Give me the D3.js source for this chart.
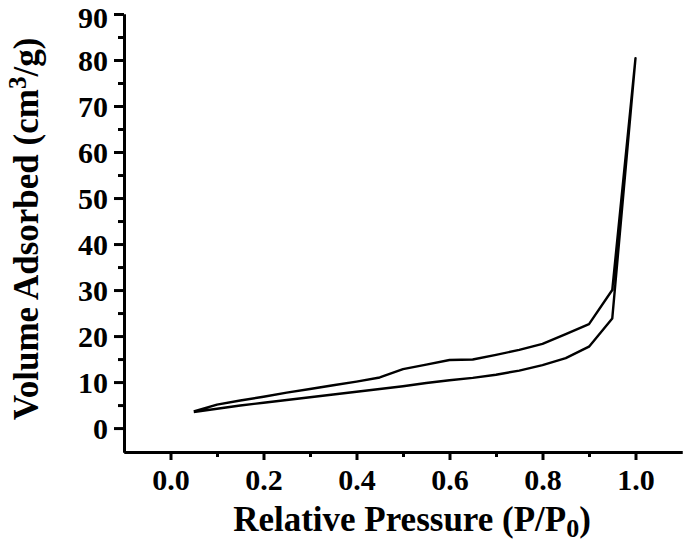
<!DOCTYPE html>
<html><head><meta charset="utf-8">
<script src="https://cdn.jsdelivr.net/npm/d3@7"></script>
<style>
body{margin:0;background:#fff;}
text{font-family:"Liberation Serif","Times New Roman",serif;font-weight:bold;fill:#000;}
</style></head><body>
<svg id="c" width="685" height="543"></svg>
<script>
const pressureAds = [0.05,0.10,0.15,0.20,0.25,0.30,0.35,0.40,0.45,0.50,0.55,0.60,0.65,0.70,0.75,0.80,0.85,0.90,0.95,1.00];
const volumeAds   = [3.5,4.2,4.9,5.5,6.1,6.7,7.3,7.9,8.5,9.1,9.8,10.4,10.9,11.6,12.5,13.7,15.2,17.7,23.8,80.4];
const pressureDes = [1.00,0.95,0.90,0.85,0.80,0.75,0.70,0.65,0.60,0.55,0.50,0.45,0.40,0.35,0.30,0.25,0.20,0.15,0.10,0.05];
const volumeDes   = [80.4,30.0,22.6,20.4,18.3,17.0,15.9,14.9,14.8,13.8,12.8,11.0,10.1,9.3,8.5,7.7,6.8,6.0,5.1,3.6];
const yTicks = [0,10,20,30,40,50,60,70,80,90];
const yMinor = [5,15,25,35,45,55,65,75,85];
const xTicks = [0.0,0.2,0.4,0.6,0.8,1.0];
const xMinor = [0.1,0.3,0.5,0.7,0.9];
const xTitle = "Relative Pressure (P/P";
const yTitle = "Volume Adsorbed (cm";

const svg = d3.select("#c");
const x = d3.scaleLinear().domain([-0.1,1.1]).range([124,682]);
const y = d3.scaleLinear().domain([-5.2,90]).range([452,14]);

// minor ticks
const gyMin = svg.append("g").attr("transform","translate(124,0)")
  .call(d3.axisLeft(y).tickValues(yMinor).tickSize(6).tickSizeOuter(0).tickFormat(""));
const gxMin = svg.append("g").attr("transform","translate(0,452)")
  .call(d3.axisBottom(x).tickValues(xMinor).tickSize(5).tickSizeOuter(0).tickFormat(""));
// major
const gy = svg.append("g").attr("transform","translate(124,0)")
  .call(d3.axisLeft(y).tickValues(yTicks).tickSize(10).tickSizeOuter(0).tickPadding(6).tickFormat(d3.format("d")));
const gx = svg.append("g").attr("transform","translate(0,452)")
  .call(d3.axisBottom(x).tickValues(xTicks).tickSize(8).tickSizeOuter(0).tickPadding(9).tickFormat(d3.format(".1f")));
[gyMin,gxMin,gy,gx].forEach(g=>{
  g.selectAll("path,line").attr("stroke","#000").attr("stroke-width",3);
  g.selectAll("text").style("font-size","30px").style("font-family","'Liberation Serif',serif").style("font-weight","bold");
});
gy.selectAll("text").attr("dy",d=>d===90?"0.46em":"0.36em");

// data loop
const pts = pressureAds.map((p,i)=>[p,volumeAds[i]]).concat(pressureDes.map((p,i)=>[p,volumeDes[i]]));
const line = d3.line().x(d=>x(d[0])).y(d=>y(d[1]));
svg.append("path").attr("d",line(pts)).attr("fill","none").attr("stroke","#000").attr("stroke-width",2.4).attr("stroke-linejoin","round");

// titles
const xt = svg.append("text").attr("x",412).attr("y",531).attr("text-anchor","middle").style("font-size","35px");
xt.append("tspan").text(xTitle);
xt.append("tspan").attr("dy",6).style("font-size","26px").text("0");
xt.append("tspan").attr("dy",-6).text(")");

const yt = svg.append("text").attr("transform","translate(38,229) rotate(-90)").attr("text-anchor","middle").style("font-size","35px");
yt.append("tspan").text(yTitle);
yt.append("tspan").attr("dy",-12).style("font-size","25px").text("3");
yt.append("tspan").attr("dy",12).text("/g)");
</script></body></html>
